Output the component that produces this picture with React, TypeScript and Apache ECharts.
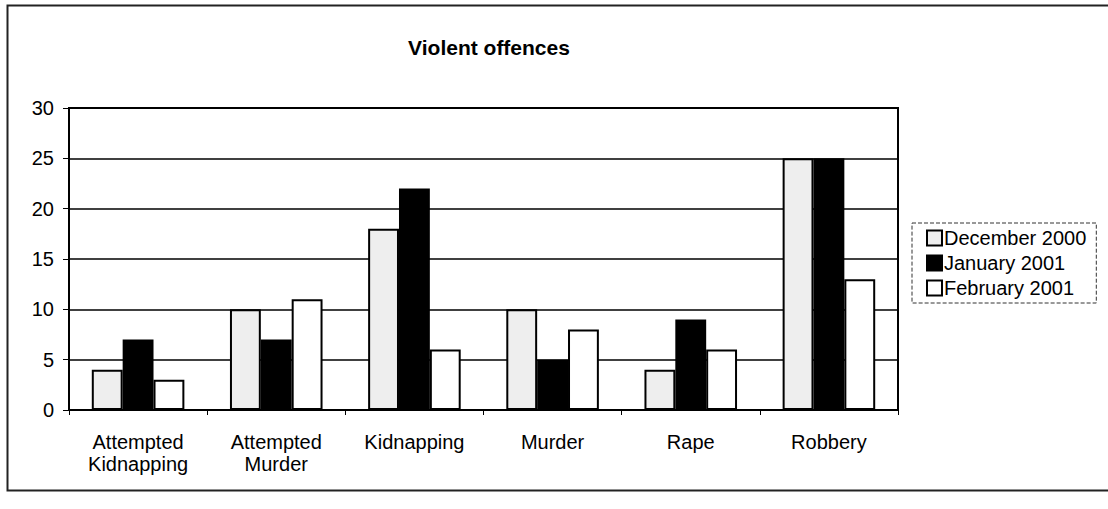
import React, { useEffect, useRef } from "react";
import * as echarts from "echarts";

const categories = ["Attempted\nKidnapping", "Attempted\nMurder", "Kidnapping", "Murder", "Rape", "Robbery"];
const december2000 = [4, 10, 18, 10, 4, 25];
const january2001 = [7, 7, 22, 5, 9, 25];
const february2001 = [3, 11, 6, 8, 6, 13];
const seriesNames = ["December 2000", "January 2001", "February 2001"];
const yTicks = { min: 0, max: 30, interval: 5 };

export default function App() {
  const ref = useRef<HTMLDivElement>(null);
  useEffect(() => {
    if (!ref.current) return;
    const chart = echarts.init(ref.current, undefined, { renderer: "svg" });
    const font = "'Liberation Sans', Arial, sans-serif";
    const border = { borderColor: "#000", borderWidth: 2 };
    chart.setOption({
      animation: false,
      backgroundColor: "#fff",
      title: {
        text: "Violent offences",
        left: 484,
        top: 32,
        textAlign: "center",
        textStyle: { fontFamily: font, fontSize: 21, fontWeight: "bold", color: "#000" },
      },
      grid: { left: 69, right: 210, top: 108, bottom: 99, show: true, borderColor: "#000", borderWidth: 2, backgroundColor: "#fff" },
      legend: {
        orient: "vertical",
        left: 912,
        top: 223,
        padding: [5, 10, 5, 14],
        itemWidth: 15,
        itemHeight: 15,
        itemGap: 5,
        borderColor: "#333",
        borderWidth: 1,
        borderType: "dashed",
        icon: "rect",
        textStyle: { fontFamily: font, fontSize: 20, lineHeight: 20, color: "#000", padding: [0, 0, 0, -3] },
        data: seriesNames,
      },
      xAxis: {
        type: "category",
        data: categories,
        axisLine: { lineStyle: { color: "#000", width: 2 } },
        axisTick: { show: true, length: 5, lineStyle: { color: "#000", width: 1 } },
        axisLabel: { fontFamily: font, fontSize: 20, color: "#000", margin: 21, lineHeight: 22, interval: 0 },
        splitLine: { show: false },
      },
      yAxis: {
        type: "value",
        min: yTicks.min,
        max: yTicks.max,
        interval: yTicks.interval,
        axisLine: { show: true, lineStyle: { color: "#000", width: 2 } },
        axisTick: { show: true, length: 6, lineStyle: { color: "#000", width: 1 } },
        axisLabel: { fontFamily: font, fontSize: 20, color: "#000", margin: 15 },
        splitLine: { show: true, lineStyle: { color: "#000", width: 1.5 } },
      },
      series: [
        {
          name: seriesNames[0],
          type: "bar",
          data: december2000,
          barGap: "0%",
          barCategoryGap: "33%",
          itemStyle: { color: "#eeeeee", ...border },
        },
        {
          name: seriesNames[1],
          type: "bar",
          data: january2001,
          itemStyle: { color: "#000", ...border },
        },
        {
          name: seriesNames[2],
          type: "bar",
          data: february2001,
          itemStyle: { color: "#fff", ...border },
        },
      ],
      graphic: [
        {
          type: "rect",
          left: 5,
          top: 3,
          shape: { width: 1110, height: 485 },
          style: { fill: "none", stroke: "#222", lineWidth: 2 },
          silent: true,
          z: -1,
        },
      ],
    });
    return () => chart.dispose();
  }, []);
  return <div ref={ref} style={{ position: "absolute", left: 0, top: 0, width: 1108, height: 509 }} />;
}
